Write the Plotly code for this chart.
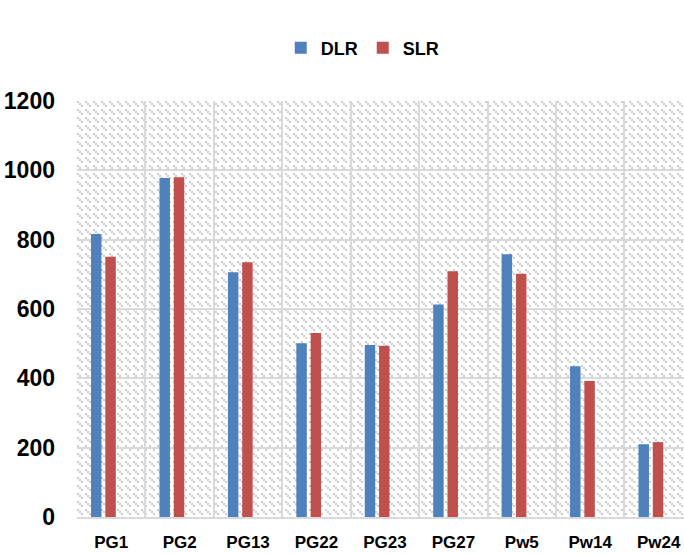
import base64
import plotly.graph_objects as go

# Generator buses and their line ratings
buses = ["PG1", "PG2", "PG13", "PG22", "PG23", "PG27", "Pw5", "Pw14", "Pw24"]
dlr = [816, 978, 706, 501, 496, 613, 758, 435, 210]
slr = [751, 980, 735, 531, 494, 709, 702, 392, 216]
y_ticks = [0, 200, 400, 600, 800, 1000, 1200]

BLUE = "#4F81BD"
RED = "#C0504D"
GRID = "#D9D9D9"

W, H = 684, 554
ML, MR, MT, MB = 77, 0, 101, 37
PW, PH = W - ML - MR, H - MT - MB

# Light diagonal hatch used as the plot-area fill
tile = (
    '<rect x="0" y="0" width="2" height="2" fill="#CDCDCD"/>'
    '<rect x="2" y="2" width="2" height="2" fill="#CDCDCD"/>'
    '<rect x="4" y="4" width="2" height="2" fill="#CDCDCD"/>'
)
svg = (
    f'<svg xmlns="http://www.w3.org/2000/svg" width="{PW}" height="{PH}" '
    f'viewBox="0 0 {PW} {PH}" preserveAspectRatio="none">'
    '<defs><pattern id="h" width="8" height="8" patternUnits="userSpaceOnUse">'
    f'{tile}</pattern></defs>'
    f'<rect width="{PW}" height="{PH}" fill="white"/>'
    f'<rect width="{PW}" height="{PH}" fill="url(#h)"/></svg>'
)
hatch_uri = "data:image/svg+xml;base64," + base64.b64encode(svg.encode()).decode()

font_family = "Liberation Sans, Arial, sans-serif"

fig = go.Figure()
fig.add_trace(go.Bar(
    name="DLR", x=buses, y=dlr, marker=dict(color=BLUE, line=dict(width=0)),
    width=0.153, offset=-0.295,
))
fig.add_trace(go.Bar(
    name="SLR", x=buses, y=slr, marker=dict(color=RED, line=dict(width=0)),
    width=0.153, offset=-0.086,
))

fig.add_layout_image(dict(
    source=hatch_uri, xref="x domain", yref="y domain",
    x=0, y=1, sizex=1, sizey=1, xanchor="left", yanchor="top",
    sizing="stretch", layer="below",
))

fig.update_layout(
    width=W, height=H,
    margin=dict(l=ML, r=MR, t=MT, b=MB, autoexpand=False),
    paper_bgcolor="white", plot_bgcolor="white",
    barmode="overlay",
    font=dict(family=font_family, color="black"),
    legend=dict(
        orientation="h", x=322 / W, xanchor="center",
        yref="container", y=1 - 48 / H, yanchor="middle",
        font=dict(size=18, family=font_family, weight="bold"),
        itemwidth=30, traceorder="normal",
    ),
    showlegend=True,
)
fig.update_xaxes(
    type="category", range=[-0.5, 8.37], tickson="boundaries",
    showgrid=True, gridcolor=GRID, gridwidth=2,
    showline=True, linecolor=GRID, linewidth=2,
    ticks="", tickfont=dict(size=17, weight="bold"),
    ticklabelstandoff=9, fixedrange=True,
)
fig.update_yaxes(
    range=[0, 1200], tickvals=y_ticks, ticktext=[str(v) for v in y_ticks],
    showgrid=True, gridcolor=GRID, gridwidth=2, zeroline=False,
    showline=False, ticks="", tickfont=dict(size=23, weight="bold"),
    ticklabelstandoff=21, fixedrange=True,
)

fig.write_html("out.html")
